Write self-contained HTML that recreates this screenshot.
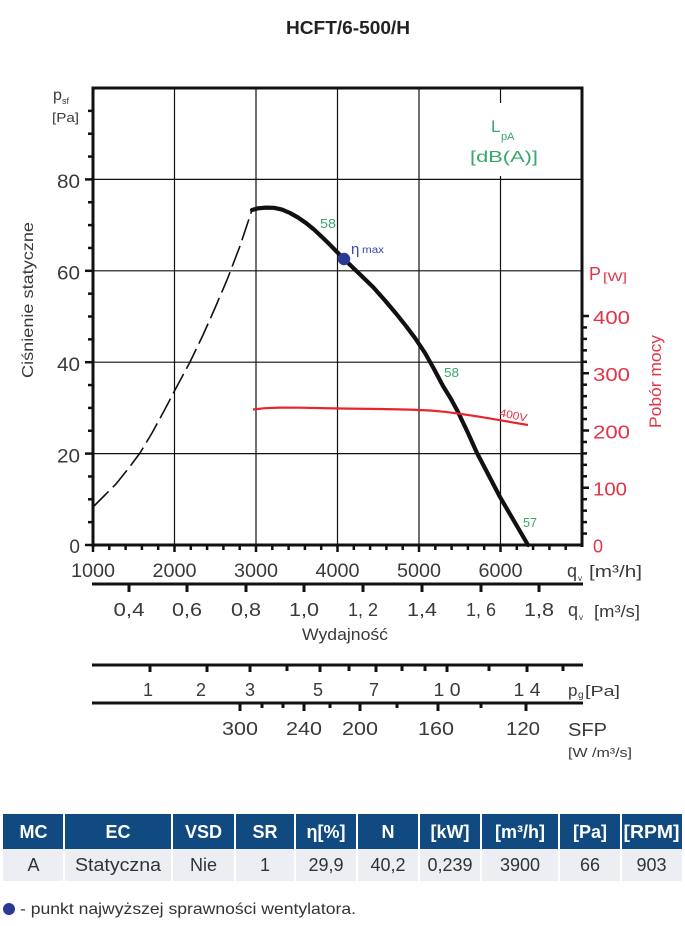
<!DOCTYPE html>
<html><head><meta charset="utf-8"><style>
html,body{margin:0;padding:0;background:#fff;}
svg{display:block;}
text{font-family:"Liberation Sans","DejaVu Sans",sans-serif;}
</style></head><body>
<svg width="685" height="926" viewBox="0 0 685 926" xmlns="http://www.w3.org/2000/svg">
<rect width="685" height="926" fill="#fff"/>
<!-- title -->
<text x="286" y="34" font-size="18" font-weight="bold" fill="#222" textLength="124" lengthAdjust="spacingAndGlyphs">HCFT/6-500/H</text>

<!-- grid -->
<g stroke="#111" stroke-width="1.2">
<line x1="174.5" y1="88" x2="174.5" y2="545"/>
<line x1="256" y1="88" x2="256" y2="545"/>
<line x1="337.5" y1="88" x2="337.5" y2="545"/>
<line x1="419" y1="88" x2="419" y2="545"/>
<line x1="500.5" y1="88" x2="500.5" y2="103"/>
<line x1="500.5" y1="176" x2="500.5" y2="545"/>
<line x1="93" y1="179.4" x2="582" y2="179.4"/>
<line x1="93" y1="270.8" x2="582" y2="270.8"/>
<line x1="93" y1="362.2" x2="582" y2="362.2"/>
<line x1="93" y1="453.6" x2="582" y2="453.6"/>
</g>

<!-- frame -->
<g stroke="#111" stroke-width="3" fill="none">
<line x1="91.5" y1="88" x2="583.5" y2="88"/>
<line x1="93" y1="88" x2="93" y2="547"/>
<line x1="582" y1="88" x2="582" y2="547"/>
<line x1="91.5" y1="545" x2="583.5" y2="545"/>
</g>

<!-- left ticks every 5 Pa -->
<g stroke="#111" stroke-width="2.5">
<line x1="85" y1="545" x2="93" y2="545"/><line x1="88" y1="522.15" x2="93" y2="522.15"/><line x1="88" y1="499.3" x2="93" y2="499.3"/><line x1="88" y1="476.45" x2="93" y2="476.45"/>
<line x1="85" y1="453.6" x2="93" y2="453.6"/><line x1="88" y1="430.75" x2="93" y2="430.75"/><line x1="88" y1="407.9" x2="93" y2="407.9"/><line x1="88" y1="385.05" x2="93" y2="385.05"/>
<line x1="85" y1="362.2" x2="93" y2="362.2"/><line x1="88" y1="339.35" x2="93" y2="339.35"/><line x1="88" y1="316.5" x2="93" y2="316.5"/><line x1="88" y1="293.65" x2="93" y2="293.65"/>
<line x1="85" y1="270.8" x2="93" y2="270.8"/><line x1="88" y1="247.95" x2="93" y2="247.95"/><line x1="88" y1="225.1" x2="93" y2="225.1"/><line x1="88" y1="202.25" x2="93" y2="202.25"/>
<line x1="85" y1="179.4" x2="93" y2="179.4"/><line x1="88" y1="156.55" x2="93" y2="156.55"/><line x1="88" y1="133.7" x2="93" y2="133.7"/><line x1="88" y1="110.85" x2="93" y2="110.85"/>
</g>

<!-- bottom ticks every 200 m3/h -->
<g stroke="#111" stroke-width="2.5">
<line x1="93" y1="545" x2="93" y2="552"/><line x1="109.3" y1="545" x2="109.3" y2="550"/><line x1="125.6" y1="545" x2="125.6" y2="550"/><line x1="141.9" y1="545" x2="141.9" y2="550"/><line x1="158.2" y1="545" x2="158.2" y2="550"/>
<line x1="174.5" y1="545" x2="174.5" y2="552"/><line x1="190.8" y1="545" x2="190.8" y2="550"/><line x1="207.1" y1="545" x2="207.1" y2="550"/><line x1="223.4" y1="545" x2="223.4" y2="550"/><line x1="239.7" y1="545" x2="239.7" y2="550"/>
<line x1="256" y1="545" x2="256" y2="552"/><line x1="272.3" y1="545" x2="272.3" y2="550"/><line x1="288.6" y1="545" x2="288.6" y2="550"/><line x1="304.9" y1="545" x2="304.9" y2="550"/><line x1="321.2" y1="545" x2="321.2" y2="550"/>
<line x1="337.5" y1="545" x2="337.5" y2="552"/><line x1="353.8" y1="545" x2="353.8" y2="550"/><line x1="370.1" y1="545" x2="370.1" y2="550"/><line x1="386.4" y1="545" x2="386.4" y2="550"/><line x1="402.7" y1="545" x2="402.7" y2="550"/>
<line x1="419" y1="545" x2="419" y2="552"/><line x1="435.3" y1="545" x2="435.3" y2="550"/><line x1="451.6" y1="545" x2="451.6" y2="550"/><line x1="467.9" y1="545" x2="467.9" y2="550"/><line x1="484.2" y1="545" x2="484.2" y2="550"/>
<line x1="500.5" y1="545" x2="500.5" y2="552"/><line x1="516.8" y1="545" x2="516.8" y2="550"/><line x1="533.1" y1="545" x2="533.1" y2="550"/><line x1="549.4" y1="545" x2="549.4" y2="550"/><line x1="565.7" y1="545" x2="565.7" y2="550"/>
</g>

<!-- right ticks every 20 W -->
<g stroke="#111" stroke-width="2.5">
<line x1="582" y1="533.55" x2="587" y2="533.55"/><line x1="582" y1="522.1" x2="587" y2="522.1"/><line x1="582" y1="510.65" x2="587" y2="510.65"/><line x1="582" y1="499.2" x2="587" y2="499.2"/>
<line x1="582" y1="487.75" x2="589" y2="487.75"/><line x1="582" y1="476.3" x2="587" y2="476.3"/><line x1="582" y1="464.85" x2="587" y2="464.85"/><line x1="582" y1="453.4" x2="587" y2="453.4"/><line x1="582" y1="441.95" x2="587" y2="441.95"/>
<line x1="582" y1="430.5" x2="589" y2="430.5"/><line x1="582" y1="419.05" x2="587" y2="419.05"/><line x1="582" y1="407.6" x2="587" y2="407.6"/><line x1="582" y1="396.15" x2="587" y2="396.15"/><line x1="582" y1="384.7" x2="587" y2="384.7"/>
<line x1="582" y1="373.25" x2="589" y2="373.25"/><line x1="582" y1="361.8" x2="587" y2="361.8"/><line x1="582" y1="350.35" x2="587" y2="350.35"/><line x1="582" y1="338.9" x2="587" y2="338.9"/><line x1="582" y1="327.45" x2="587" y2="327.45"/>
<line x1="582" y1="316" x2="589" y2="316"/>
</g>

<!-- left labels -->
<g font-size="19" fill="#3a3a3a" text-anchor="end">
<text x="80" y="188" textLength="23" lengthAdjust="spacingAndGlyphs">80</text>
<text x="80" y="279.5" textLength="23" lengthAdjust="spacingAndGlyphs">60</text>
<text x="80" y="371" textLength="23" lengthAdjust="spacingAndGlyphs">40</text>
<text x="80" y="462.5" textLength="23" lengthAdjust="spacingAndGlyphs">20</text>
<text x="80" y="553">0</text>
</g>
<text x="53" y="100" font-size="16" fill="#3a3a3a">p</text>
<text x="62" y="104" font-size="9" fill="#3a3a3a">sf</text>
<text x="52" y="122" font-size="13" fill="#3a3a3a" textLength="27" lengthAdjust="spacingAndGlyphs">[Pa]</text>
<text transform="translate(33,378) rotate(-90)" font-size="16" fill="#3a3a3a" textLength="156" lengthAdjust="spacingAndGlyphs">Ciśnienie statyczne</text>

<!-- x labels m3/h -->
<g font-size="19" fill="#3a3a3a" text-anchor="middle">
<text x="93" y="577" textLength="44" lengthAdjust="spacingAndGlyphs">1000</text>
<text x="174.5" y="577" textLength="44" lengthAdjust="spacingAndGlyphs">2000</text>
<text x="256" y="577" textLength="44" lengthAdjust="spacingAndGlyphs">3000</text>
<text x="337.5" y="577" textLength="44" lengthAdjust="spacingAndGlyphs">4000</text>
<text x="419" y="577" textLength="44" lengthAdjust="spacingAndGlyphs">5000</text>
<text x="500.5" y="577" textLength="44" lengthAdjust="spacingAndGlyphs">6000</text>
</g>
<text x="567" y="577" font-size="18" fill="#3a3a3a">q</text>
<text x="578" y="581" font-size="8" fill="#3a3a3a">v</text>
<text x="589" y="577" font-size="17" fill="#3a3a3a" textLength="53" lengthAdjust="spacingAndGlyphs">[m³/h]</text>

<!-- right labels -->
<g font-size="18" fill="#e03448">
<text x="593" y="324" textLength="37" lengthAdjust="spacingAndGlyphs">400</text>
<text x="593" y="381" textLength="37" lengthAdjust="spacingAndGlyphs">300</text>
<text x="593" y="438.5" textLength="37" lengthAdjust="spacingAndGlyphs">200</text>
<text x="593" y="495.5" textLength="34" lengthAdjust="spacingAndGlyphs">100</text>
<text x="593" y="552.5">0</text>
<text x="589" y="280">P</text>
</g>
<text x="603" y="281" font-size="12" fill="#e03448" textLength="24" lengthAdjust="spacingAndGlyphs">[W]</text>
<text transform="translate(661,428) rotate(-90)" font-size="17" fill="#e03448" textLength="93" lengthAdjust="spacingAndGlyphs">Pobór mocy</text>

<!-- LpA -->
<rect x="465" y="104" width="80" height="71" fill="#fff"/>
<text x="491" y="132" font-size="17" fill="#3aa56c">L</text>
<text x="501" y="140" font-size="11" fill="#3aa56c">pA</text>
<text x="470" y="162" font-size="16" fill="#3aa56c" textLength="68" lengthAdjust="spacingAndGlyphs">[dB(A)]</text>

<!-- curves -->
<path d="M93,507 L104,496 L116,484 L128,469 L140,453 L152,433 L164,411 L175,390 L190,362 L203,335 L215,308 L227,280 L240,246 L252,210" fill="none" stroke="#111" stroke-width="1.6" stroke-dasharray="22 6"/>
<path d="M252,210 L258,208.3 L266,207.6 L274,207.8 L282,209.6 L290,213 L298,217.5 L306,223 L314,229.5 L322,237 L330,244.8 L337,252 L344,259 L358,272.5 L373,287 L385,300.5 L396,313.5 L406,326 L415,338 L425,353 L434,369 L443,386 L451,399 L458,412 L468,433 L477,453 L488,474 L500,497 L514,521 L528,545" fill="none" stroke="#111" stroke-width="4.2" stroke-linejoin="round" stroke-linecap="round"/>
<path d="M253,409.5 L265,408.2 L280,407.6 L300,407.7 L340,408.5 L380,409 L410,409.6 L430,410.5 L445,411.8 L460,413.8 L480,416.8 L500,420.2 L515,422.8 L528,425" fill="none" stroke="#e8242c" stroke-width="2.2" stroke-linejoin="round"/>

<circle cx="344" cy="259" r="6.2" fill="#2b3896"/>
<text x="351" y="254" font-size="15" fill="#3a48a6">η</text>
<text x="362" y="253" font-size="10" fill="#3a48a6" textLength="22" lengthAdjust="spacingAndGlyphs">max</text>

<g font-size="13" fill="#3aa56c">
<text x="320" y="228" textLength="16" lengthAdjust="spacingAndGlyphs">58</text>
<text x="444" y="377" textLength="15" lengthAdjust="spacingAndGlyphs">58</text>
<text x="523" y="527" textLength="14" lengthAdjust="spacingAndGlyphs">57</text>
</g>
<text transform="translate(499,416) rotate(12)" font-size="11" fill="#e03448" textLength="28" lengthAdjust="spacingAndGlyphs">400V</text>

<!-- m3/s axis -->
<g stroke="#111" stroke-width="3">
<line x1="92" y1="584" x2="583" y2="584"/>
<line x1="129" y1="584" x2="129" y2="592"/>
<line x1="187" y1="584" x2="187" y2="592"/>
<line x1="246" y1="584" x2="246" y2="592"/>
<line x1="304" y1="584" x2="304" y2="592"/>
<line x1="363" y1="584" x2="363" y2="592"/>
<line x1="422" y1="584" x2="422" y2="592"/>
<line x1="481" y1="584" x2="481" y2="592"/>
<line x1="539" y1="584" x2="539" y2="592"/>
</g>
<g font-size="18" fill="#3a3a3a" text-anchor="middle">
<text x="129" y="616" textLength="31" lengthAdjust="spacingAndGlyphs">0,4</text>
<text x="187" y="616" textLength="30" lengthAdjust="spacingAndGlyphs">0,6</text>
<text x="246" y="616" textLength="30" lengthAdjust="spacingAndGlyphs">0,8</text>
<text x="304" y="616" textLength="30" lengthAdjust="spacingAndGlyphs">1,0</text>
<text x="363" y="616" textLength="30" lengthAdjust="spacingAndGlyphs">1, 2</text>
<text x="422" y="616" textLength="30" lengthAdjust="spacingAndGlyphs">1,4</text>
<text x="481" y="616" textLength="30" lengthAdjust="spacingAndGlyphs">1, 6</text>
<text x="539" y="616" textLength="30" lengthAdjust="spacingAndGlyphs">1,8</text>
</g>
<text x="568" y="616" font-size="18" fill="#3a3a3a">q</text>
<text x="579" y="620" font-size="8" fill="#3a3a3a">v</text>
<text x="594" y="617" font-size="17" fill="#3a3a3a" textLength="46" lengthAdjust="spacingAndGlyphs">[m³/s]</text>
<text x="302" y="640" font-size="17" fill="#3a3a3a" textLength="86" lengthAdjust="spacingAndGlyphs">Wydajność</text>

<!-- pg axis -->
<g stroke="#111" stroke-width="3">
<line x1="92" y1="665" x2="583" y2="665"/>
<line x1="150" y1="665" x2="150" y2="672"/>
<line x1="207" y1="665" x2="207" y2="672"/>
<line x1="250" y1="665" x2="250" y2="672"/>
<line x1="287" y1="665" x2="287" y2="671"/>
<line x1="320" y1="665" x2="320" y2="672"/>
<line x1="349" y1="665" x2="349" y2="671"/>
<line x1="376" y1="665" x2="376" y2="672"/>
<line x1="402" y1="665" x2="402" y2="671"/>
<line x1="425" y1="665" x2="425" y2="671"/>
<line x1="447" y1="665" x2="447" y2="672"/>
<line x1="489" y1="665" x2="489" y2="671"/>
<line x1="527" y1="665" x2="527" y2="672"/>
<line x1="563" y1="665" x2="563" y2="671"/>
</g>
<g font-size="18" fill="#3a3a3a" text-anchor="middle">
<text x="148" y="696">1</text>
<text x="201" y="696">2</text>
<text x="250" y="696">3</text>
<text x="318" y="696">5</text>
<text x="374" y="696">7</text>
<text x="447" y="696" textLength="27" lengthAdjust="spacingAndGlyphs">1 0</text>
<text x="527" y="696" textLength="27" lengthAdjust="spacingAndGlyphs">1 4</text>
</g>
<text x="568" y="696" font-size="17" fill="#3a3a3a">p</text>
<text x="578" y="698" font-size="10" fill="#3a3a3a">g</text>
<text x="585" y="696" font-size="15" fill="#3a3a3a" textLength="35" lengthAdjust="spacingAndGlyphs">[Pa]</text>

<!-- SFP axis -->
<g stroke="#111" stroke-width="3">
<line x1="92" y1="703" x2="583" y2="703"/>
<line x1="240" y1="703" x2="240" y2="711"/>
<line x1="262" y1="703" x2="262" y2="708"/>
<line x1="283" y1="703" x2="283" y2="708"/>
<line x1="304" y1="703" x2="304" y2="711"/>
<line x1="330" y1="703" x2="330" y2="708"/>
<line x1="360" y1="703" x2="360" y2="711"/>
<line x1="397" y1="703" x2="397" y2="708"/>
<line x1="438" y1="703" x2="438" y2="711"/>
<line x1="481" y1="703" x2="481" y2="708"/>
<line x1="526" y1="703" x2="526" y2="711"/>
</g>
<g font-size="18" fill="#3a3a3a" text-anchor="middle">
<text x="240" y="735" textLength="36" lengthAdjust="spacingAndGlyphs">300</text>
<text x="304" y="735" textLength="36" lengthAdjust="spacingAndGlyphs">240</text>
<text x="360" y="735" textLength="36" lengthAdjust="spacingAndGlyphs">200</text>
<text x="436" y="735" textLength="36" lengthAdjust="spacingAndGlyphs">160</text>
<text x="523" y="735" textLength="34" lengthAdjust="spacingAndGlyphs">120</text>
</g>
<text x="568" y="736" font-size="18" fill="#3a3a3a" textLength="39" lengthAdjust="spacingAndGlyphs">SFP</text>
<text x="568" y="757" font-size="13" fill="#3a3a3a" textLength="64" lengthAdjust="spacingAndGlyphs">[W /m³/s]</text>

<!-- table -->
<rect x="3" y="814" width="679" height="35" fill="#114a80"/>
<rect x="3" y="849" width="679" height="32" fill="#eceef3"/>
<g stroke="#fff" stroke-width="2">
<line x1="64" y1="814" x2="64" y2="881"/>
<line x1="172" y1="814" x2="172" y2="881"/>
<line x1="235" y1="814" x2="235" y2="881"/>
<line x1="295" y1="814" x2="295" y2="881"/>
<line x1="357" y1="814" x2="357" y2="881"/>
<line x1="419" y1="814" x2="419" y2="881"/>
<line x1="481" y1="814" x2="481" y2="881"/>
<line x1="559" y1="814" x2="559" y2="881"/>
<line x1="621" y1="814" x2="621" y2="881"/>
</g>
<g font-size="18" font-weight="bold" fill="#fff" text-anchor="middle">
<text x="33.5" y="838">MC</text>
<text x="118" y="838">EC</text>
<text x="203.5" y="838">VSD</text>
<text x="265" y="838">SR</text>
<text x="326" y="838">η[%]</text>
<text x="388" y="838">N</text>
<text x="450" y="838">[kW]</text>
<text x="520" y="838">[m³/h]</text>
<text x="590" y="838">[Pa]</text>
<text x="651.5" y="838" textLength="56" lengthAdjust="spacingAndGlyphs">[RPM]</text>
</g>
<g font-size="18" fill="#333" text-anchor="middle">
<text x="33.5" y="871">A</text>
<text x="118" y="871" textLength="86" lengthAdjust="spacingAndGlyphs">Statyczna</text>
<text x="203.5" y="871">Nie</text>
<text x="265" y="871">1</text>
<text x="326" y="871">29,9</text>
<text x="388" y="871">40,2</text>
<text x="450" y="871">0,239</text>
<text x="520" y="871">3900</text>
<text x="590" y="871">66</text>
<text x="651.5" y="871">903</text>
</g>

<!-- footer -->
<circle cx="9" cy="909" r="6" fill="#2b3896"/>
<text x="20" y="914" font-size="16" fill="#333" textLength="336" lengthAdjust="spacingAndGlyphs">- punkt najwyższej sprawności wentylatora.</text>
</svg>
</body></html>
